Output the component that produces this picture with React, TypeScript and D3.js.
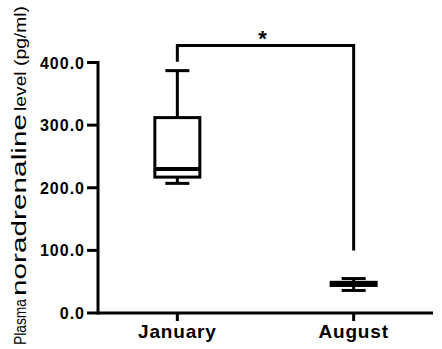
import * as d3 from "d3";
import React, { useRef, useEffect } from "react";

const mainWidth = 442;
const mainHeight = 349;

// box plot summary per month (pg/ml)
const groups = ["January", "August"];
const minVals = [207, 36];
const q1Vals = [217, 44];
const medianVals = [230, 46];
const q3Vals = [312, 49];
const maxVals = [387, 55];

const yTicks = [0, 100, 200, 300, 400];

// significance bracket: leg ends and top, in data units
const bracketLeft = 401;
const bracketRight = 100;
const bracketTop = 427;
const bracketLabel = "*";

const axisX = 98;
const axisY = 313;

function App() {
  const ref = useRef<SVGSVGElement>(null);

  useEffect(() => {
    const svg = d3.select(ref.current);
    svg.selectAll("*").remove();

    const x = d3.scalePoint().domain(groups).range([axisX, 433]).padding(0.45);
    const y = d3.scaleLinear().domain([0, 400]).range([axisY, 62.5]);

    const boxW = 45;
    const capW = 24;
    const sw = 3;

    const g = svg.append("g");

    // axes
    g.append("line")
      .attr("x1", axisX).attr("x2", axisX)
      .attr("y1", y(400) - 1.5).attr("y2", axisY + 1.5)
      .attr("stroke", "black").attr("stroke-width", sw);
    g.append("line")
      .attr("x1", axisX).attr("x2", 433)
      .attr("y1", axisY).attr("y2", axisY)
      .attr("stroke", "black").attr("stroke-width", sw);

    g.selectAll(".ytick")
      .data(yTicks)
      .enter()
      .append("line")
      .attr("x1", axisX - 11).attr("x2", axisX)
      .attr("y1", (d) => y(d)).attr("y2", (d) => y(d))
      .attr("stroke", "black").attr("stroke-width", sw);

    g.selectAll(".ylab")
      .data(yTicks)
      .enter()
      .append("text")
      .attr("x", 85)
      .attr("y", (d) => y(d) + 6)
      .attr("text-anchor", "end")
      .style("font-family", "'Liberation Sans', Arial, sans-serif")
      .style("font-weight", "bold")
      .style("font-size", "16px")
      .style("letter-spacing", "1px")
      .text((d) => d.toFixed(1));

    g.selectAll(".xtick")
      .data(groups)
      .enter()
      .append("line")
      .attr("x1", (d) => x(d)!).attr("x2", (d) => x(d)!)
      .attr("y1", axisY).attr("y2", axisY + 8)
      .attr("stroke", "black").attr("stroke-width", sw);

    g.selectAll(".xlab")
      .data(groups)
      .enter()
      .append("text")
      .attr("x", (d) => x(d)!)
      .attr("y", 338)
      .attr("text-anchor", "middle")
      .style("font-family", "'Liberation Sans', Arial, sans-serif")
      .style("font-weight", "bold")
      .style("font-size", "19px")
      .style("letter-spacing", "0.8px")
      .text((d) => d);

    // y axis title, pieces stretched like the original
    const title = g.append("g").attr("transform", "translate(26, 345) rotate(-90)");
    const titleParts = [
      { t: "Plasma", size: 16, len: 46, at: 0 },
      { t: "noradrenaline", size: 21, len: 182, at: 49 },
      { t: "level (pg/ml)", size: 16, len: 105, at: 234 },
    ];
    title.selectAll("text")
      .data(titleParts)
      .enter()
      .append("text")
      .attr("x", (d) => d.at)
      .attr("y", 0)
      .attr("textLength", (d) => d.len)
      .attr("lengthAdjust", "spacingAndGlyphs")
      .style("font-family", "'Liberation Sans', Arial, sans-serif")
      .style("font-size", (d) => d.size + "px")
      .text((d) => d.t);

    // boxes
    const box = g.selectAll(".box")
      .data(groups)
      .enter()
      .append("g");

    box.append("line")
      .attr("x1", (d) => x(d)!).attr("x2", (d) => x(d)!)
      .attr("y1", (_, i) => y(maxVals[i])).attr("y2", (_, i) => y(q3Vals[i]))
      .attr("stroke", "black").attr("stroke-width", sw);
    box.append("line")
      .attr("x1", (d) => x(d)!).attr("x2", (d) => x(d)!)
      .attr("y1", (_, i) => y(q1Vals[i])).attr("y2", (_, i) => y(minVals[i]))
      .attr("stroke", "black").attr("stroke-width", sw);
    [maxVals, minVals].forEach((vals) => {
      box.append("line")
        .attr("x1", (d) => x(d)! - capW / 2).attr("x2", (d) => x(d)! + capW / 2)
        .attr("y1", (_, i) => y(vals[i])).attr("y2", (_, i) => y(vals[i]))
        .attr("stroke", "black").attr("stroke-width", sw);
    });
    box.append("rect")
      .attr("x", (d) => x(d)! - boxW / 2)
      .attr("width", boxW)
      .attr("y", (_, i) => y(q3Vals[i]))
      .attr("height", (_, i) => y(q1Vals[i]) - y(q3Vals[i]))
      .attr("fill", "white")
      .attr("stroke", "black").attr("stroke-width", sw);
    box.append("line")
      .attr("x1", (d) => x(d)! - boxW / 2).attr("x2", (d) => x(d)! + boxW / 2)
      .attr("y1", (_, i) => y(medianVals[i])).attr("y2", (_, i) => y(medianVals[i]))
      .attr("stroke", "black").attr("stroke-width", 4);

    // significance bracket
    const xl = x(groups[0])!;
    const xr = x(groups[1])!;
    g.append("path")
      .attr("d", `M${xl},${y(bracketLeft)}V${y(bracketTop)}H${xr}V${y(bracketRight)}`)
      .attr("fill", "none")
      .attr("stroke", "black")
      .attr("stroke-width", sw);
    g.append("text")
      .attr("x", (xl + xr) / 2 - 3)
      .attr("y", y(bracketTop))
      .attr("text-anchor", "middle")
      .style("font-family", "'Liberation Sans', Arial, sans-serif")
      .style("font-weight", "bold")
      .style("font-size", "22px")
      .text(bracketLabel);
  }, []);

  return (
    <svg
      ref={ref}
      width={mainWidth}
      height={mainHeight}
      style={{ position: "absolute", left: 0, top: 0, background: "white" }}
    ></svg>
  );
}

export default App;
